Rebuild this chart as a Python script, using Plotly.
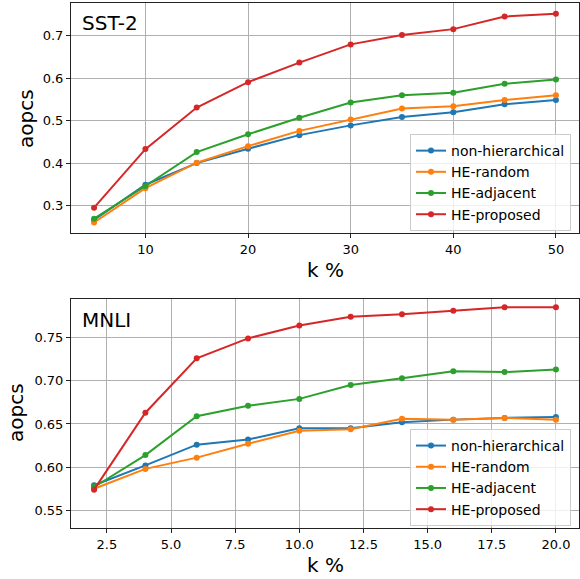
import plotly.graph_objects as go

# ---- data ----
sst_k = [5, 10, 15, 20, 25, 30, 35, 40, 45, 50]
sst_non_hier = [0.266, 0.349, 0.400, 0.434, 0.466, 0.489, 0.509, 0.520, 0.539, 0.549]
sst_he_random = [0.260, 0.341, 0.401, 0.440, 0.476, 0.503, 0.529, 0.534, 0.549, 0.560]
sst_he_adjacent = [0.269, 0.346, 0.426, 0.468, 0.507, 0.543, 0.560, 0.566, 0.587, 0.597]
sst_he_proposed = [0.295, 0.433, 0.531, 0.591, 0.637, 0.680, 0.702, 0.716, 0.746, 0.752]

mnli_k = [2, 4, 6, 8, 10, 12, 14, 16, 18, 20]
mnli_non_hier = [0.579, 0.602, 0.626, 0.632, 0.645, 0.645, 0.652, 0.655, 0.657, 0.658]
mnli_he_random = [0.575, 0.598, 0.611, 0.627, 0.642, 0.644, 0.656, 0.655, 0.657, 0.655]
mnli_he_adjacent = [0.577, 0.614, 0.659, 0.671, 0.679, 0.695, 0.703, 0.711, 0.710, 0.713]
mnli_he_proposed = [0.574, 0.663, 0.726, 0.749, 0.764, 0.774, 0.777, 0.781, 0.785, 0.785]

series_names = ["non-hierarchical", "HE-random", "HE-adjacent", "HE-proposed"]
colors = ["#1f77b4", "#ff7f0e", "#2ca02c", "#d62728"]

sst_ticks_x = [10, 20, 30, 40, 50]
sst_ticks_y = [0.3, 0.4, 0.5, 0.6, 0.7]
mnli_ticks_x = [2.5, 5.0, 7.5, 10.0, 12.5, 15.0, 17.5, 20.0]
mnli_ticks_y = [0.55, 0.60, 0.65, 0.70, 0.75]

FONT = "DejaVu Sans"
W, H = 580, 579
fig = go.Figure()

sst_series = [sst_non_hier, sst_he_random, sst_he_adjacent, sst_he_proposed]
mnli_series = [mnli_non_hier, mnli_he_random, mnli_he_adjacent, mnli_he_proposed]

for name, col, ys in zip(series_names, colors, sst_series):
    fig.add_trace(go.Scatter(x=sst_k, y=ys, name=name, mode="lines+markers",
                             line=dict(color=col, width=2), marker=dict(color=col, size=6),
                             xaxis="x", yaxis="y", legend="legend"))
for name, col, ys in zip(series_names, colors, mnli_series):
    fig.add_trace(go.Scatter(x=mnli_k, y=ys, name=name, mode="lines+markers",
                             line=dict(color=col, width=2), marker=dict(color=col, size=6),
                             xaxis="x2", yaxis="y2", legend="legend2"))

axis_common = dict(showline=True, linecolor="#222222", linewidth=1, mirror=True,
                   showgrid=True, gridcolor="#b0b0b0", gridwidth=1, zeroline=False,
                   ticks="outside", ticklen=4, tickcolor="#222222", automargin=False,
                   tickfont=dict(family=FONT, size=13, color="black"))

legend_common = dict(xanchor="right", yanchor="bottom", bgcolor="rgba(255,255,255,0.8)",
                     bordercolor="#cccccc", borderwidth=1, itemwidth=30,
                     font=dict(family=FONT, size=14, color="black"), tracegroupgap=0)


def px(xp, yp):
    return xp / W, 1 - yp / H


def label(text, xp, yp, angle=0):
    x, y = px(xp, yp)
    return dict(text=text, xref="paper", yref="paper", x=x, y=y,
                xanchor="center", yanchor="middle", showarrow=False, textangle=angle,
                font=dict(family=FONT, size=20, color="black"))


fig.update_layout(
    width=W, height=H,
    margin=dict(l=0, r=0, t=0, b=0, autoexpand=False),
    plot_bgcolor="white", paper_bgcolor="white",
    font=dict(family=FONT, color="black"),
    xaxis=dict(domain=[0.1224, 0.9983], anchor="y", range=[2.75, 52.25],
               tickvals=sst_ticks_x, **axis_common),
    yaxis=dict(domain=[0.5976, 0.9948], anchor="x", range=[0.2352, 0.7776],
               tickvals=sst_ticks_y, tickformat=".1f", **axis_common),
    xaxis2=dict(domain=[0.1224, 0.9983], anchor="y2", range=[1.1, 20.9],
                tickvals=mnli_ticks_x, tickformat=".1f", **axis_common),
    yaxis2=dict(domain=[0.0881, 0.4836], anchor="x2", range=[0.5296, 0.7946],
                tickvals=mnli_ticks_y, tickformat=".2f", **axis_common),
    legend=dict(x=0.9845, y=0.601, **legend_common),
    legend2=dict(x=0.9845, y=0.0916, **legend_common),
    annotations=[
        dict(text="SST-2", xref="paper", yref="paper", x=0.138, y=0.985,
             xanchor="left", yanchor="top", showarrow=False,
             font=dict(family=FONT, size=20, color="black")),
        dict(text="MNLI", xref="paper", yref="paper", x=0.138, y=0.472,
             xanchor="left", yanchor="top", showarrow=False,
             font=dict(family=FONT, size=20, color="black")),
        label("k %", 325, 270),
        label("k %", 325, 565),
        label("aopcs", 26, 119, -90),
        label("aopcs", 16, 413, -90),
    ],
)

post = ("document.body.style.margin='0px';"
        "document.body.style.overflow='hidden';"
        "window.dispatchEvent(new Event('resize'));")
fig.write_html("out.html", post_script=post, config={"displayModeBar": False})
